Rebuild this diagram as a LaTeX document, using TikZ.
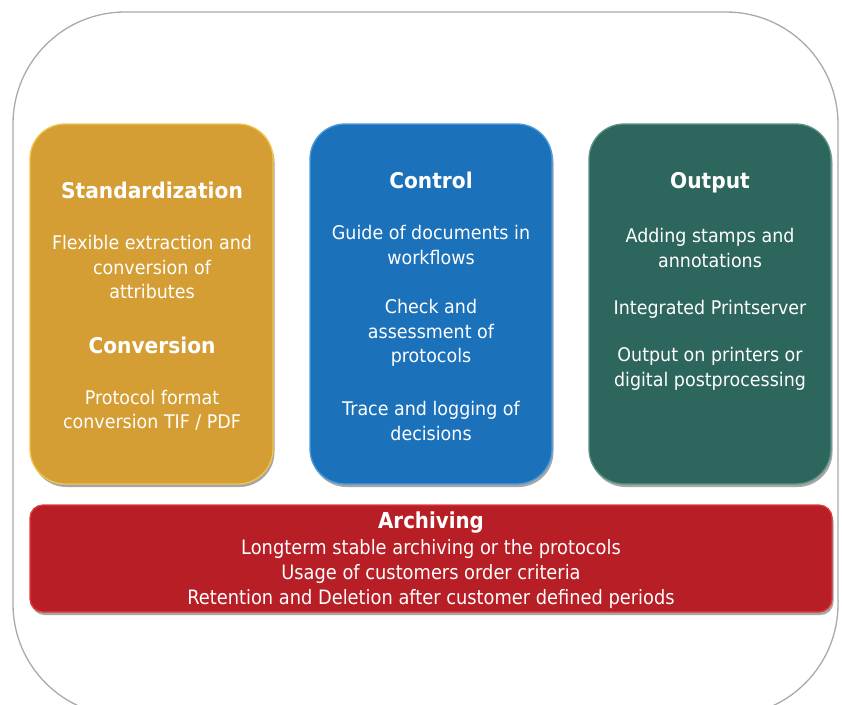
\documentclass[tikz,border=0pt]{standalone}
\usepackage{fontspec}
\setmainfont{DejaVu Sans}[FakeStretch=0.93]
\newfontfamily\narrowfont{DejaVu Sans}[FakeStretch=0.9]
\usetikzlibrary{shadows}
\definecolor{cOrange}{HTML}{D59E35}
\definecolor{cOrangeRim}{HTML}{F2C44A}
\definecolor{cBlue}{HTML}{1C71BB}
\definecolor{cBlueRim}{HTML}{4A9BDD}
\definecolor{cGreen}{HTML}{2D665C}
\definecolor{cGreenRim}{HTML}{5D958A}
\definecolor{cRed}{HTML}{B71E25}
\definecolor{cRedRim}{HTML}{E23B40}
\definecolor{cOuter}{HTML}{A9A9AB}
\tikzset{
  outerbox/.style={draw=cOuter, line width=1.3pt, rounded corners=112pt},
  colbox/.style={rounded corners=35pt, line width=1.3pt,
     drop shadow={shadow xshift=1.5pt, shadow yshift=-3pt, opacity=0.35, fill=black}},
  barbox/.style={rounded corners=13pt, line width=1.3pt,
     drop shadow={shadow xshift=1.5pt, shadow yshift=-3pt, opacity=0.35, fill=black}},
  ttl/.style={text=white, align=center, inner sep=0pt, font=\bfseries\fontsize{21.7}{24.5}\selectfont},
  txt/.style={text=white, align=center, inner sep=0pt, font=\fontsize{18.8}{24.5}\selectfont},
  atxt/.style={text=white, align=center, inner sep=0pt, font=\narrowfont\fontsize{19.8}{24.8}\selectfont},
  attl/.style={text=white, align=center, inner sep=0pt, font=\narrowfont\bfseries\fontsize{22}{24.5}\selectfont},
}
\begin{document}
\begin{tikzpicture}[x=1pt, y=-1pt]
\useasboundingbox (0,0) rectangle (842,704);
\begin{scope}
\clip (0,0) rectangle (842,704);
\draw[outerbox] (13,12) rectangle (838,716);
\end{scope}

% column boxes
\path[colbox, fill=cOrange, draw=cOrangeRim] (30,124) rectangle (273,484);
\path[colbox, fill=cBlue, draw=cBlueRim] (310,124) rectangle (552,484);
\path[colbox, fill=cGreen, draw=cGreenRim] (589,124) rectangle (831,484);
\path[barbox, fill=cRed, draw=cRedRim] (30,505) rectangle (832,612);

% Standardization column
\node[ttl] (std) at (152,190) {Standardization};
\node[txt] (stdt) at (152,267) {Flexible extraction and\\conversion of\\attributes};
\node[ttl] (conv) at (152,345) {Conversion};
\node[txt] (convt) at (152,410) {Protocol format\\conversion TIF / PDF};

% Control column
\node[ttl] (ctl) at (431,180) {Control};
\node[txt] (ctl1) at (431,245) {Guide of documents in\\workflows};
\node[txt] (ctl2) at (431,333) {Check and\\assessment of\\protocols};
\node[txt] (ctl3) at (431,421) {Trace and logging of\\decisions};

% Output column
\node[ttl] (out) at (710,183) {Output};
\node[txt] (out1) at (710,248) {Adding stamps and\\annotations};
\node[txt] (out2) at (710,309) {Integrated Printserver};
\node[txt] (out3) at (710,369) {Output on printers or\\digital postprocessing};

% Archiving bar
\node[attl] (arc) at (431,523) {Archiving};
\node[atxt] (arct) at (431,574) {Longterm stable archiving or the protocols\\Usage of customers order criteria\\Retention and Deletion after customer defined periods};
\end{tikzpicture}
\end{document}
